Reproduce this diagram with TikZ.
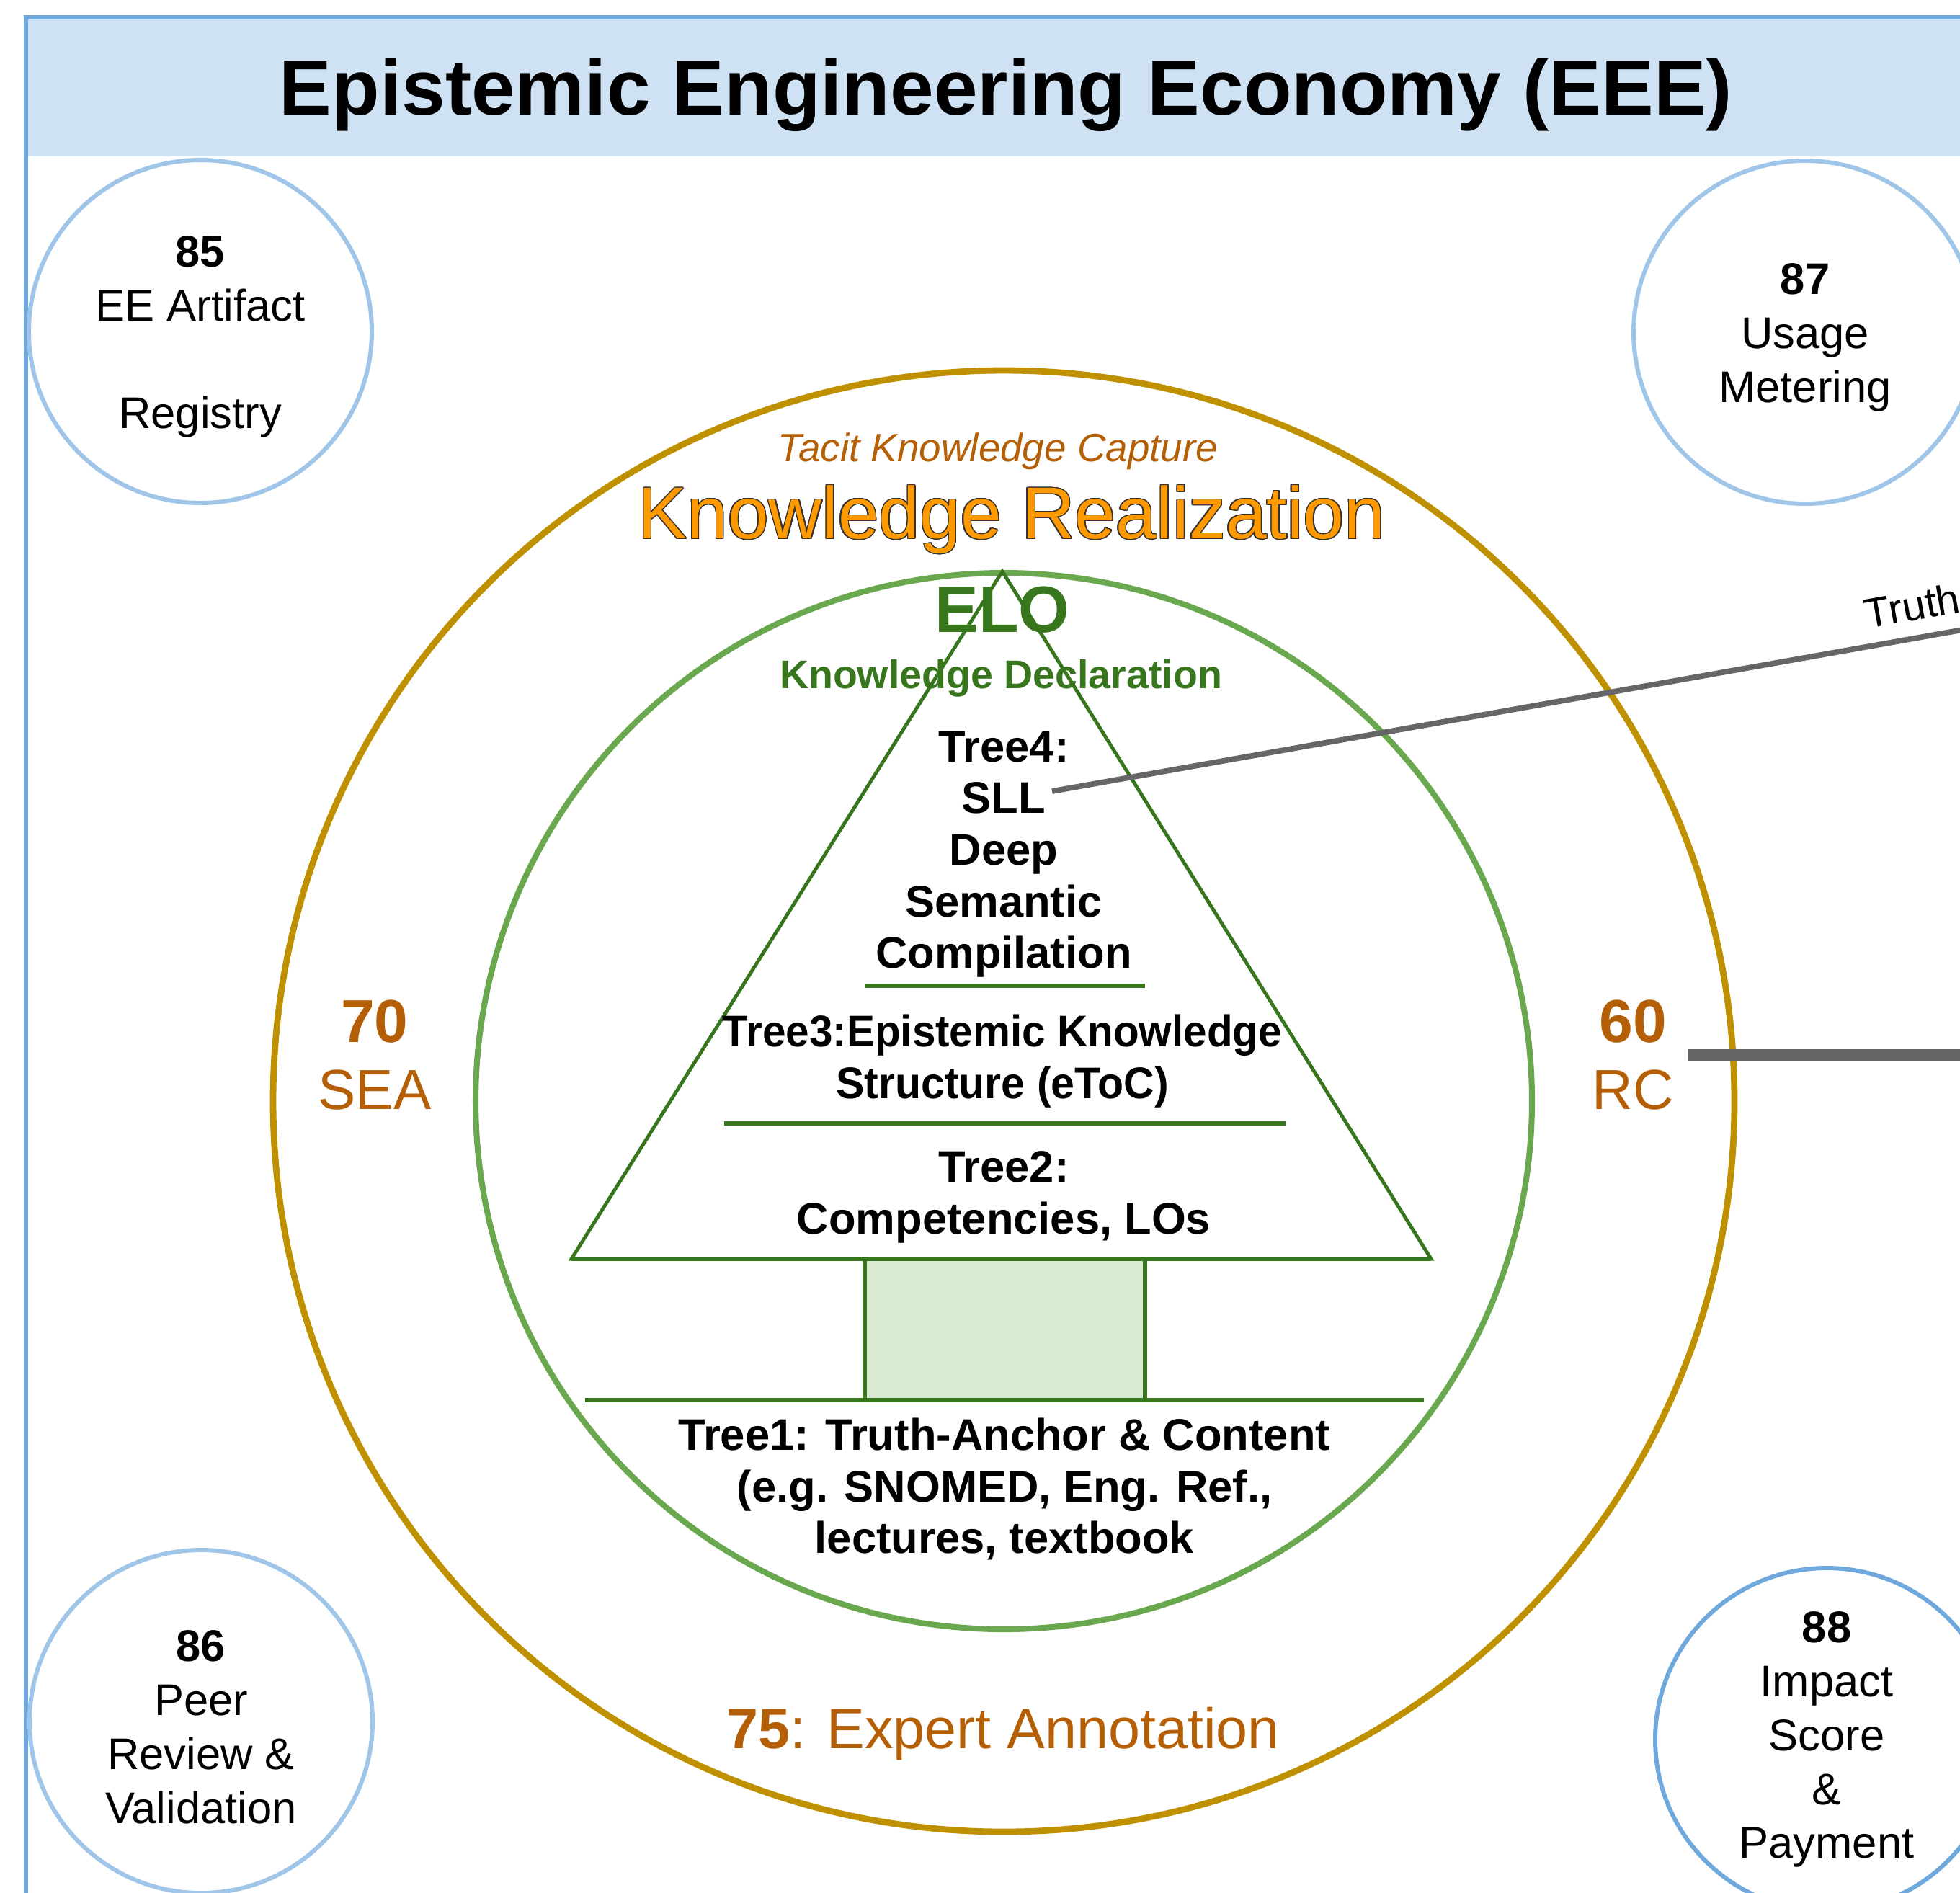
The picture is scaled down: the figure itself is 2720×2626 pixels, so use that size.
\documentclass[tikz,border=0pt]{standalone}
\usepackage{fontspec}
\setmainfont{Liberation Sans}
\usepackage{contour}
\contourlength{0.4pt}
\contournumber{24}
\usetikzlibrary{positioning}

\definecolor{framebl}{HTML}{6FA8DC}
\definecolor{bubblebl}{HTML}{9FC5E8}
\definecolor{headbl}{HTML}{CFE2F3}
\definecolor{gold}{HTML}{BF9000}
\definecolor{ringgreen}{HTML}{6AA84F}
\definecolor{leafgreen}{HTML}{38761D}
\definecolor{trunkfill}{HTML}{D9EAD3}
\definecolor{rust}{HTML}{B45F06}
\definecolor{krorange}{HTML}{FF9900}
\definecolor{linkgray}{HTML}{666666}

\newcommand{\bubblenum}[1]{\rule{0pt}{16.5pt}\textbf{#1}}

\begin{document}
\begin{tikzpicture}[x=0.1mm,y=-0.1mm,
    bubble/.style={circle,draw=bubblebl,line width=1.7pt,minimum size=47.6mm,inner sep=0pt,align=center,font=\fontsize{17.5}{21.3}\selectfont},
    treetxt/.style={anchor=north,inner sep=0pt,align=center,font=\fontsize{17.5}{20.4}\selectfont\bfseries},
    sidetxt/.style={inner sep=2mm,align=center,text=rust,font=\fontsize{22.3}{26.2}\selectfont},
    treeline/.style={draw=leafgreen,line width=1.6pt},
    link/.style={draw=linkgray,line width=2.2pt}]

    \useasboundingbox (0,0) rectangle (2720,2626);

    \fill[headbl] (36,24) rectangle (2900,217);
    \draw[framebl,line width=1.7pt] (36,2800) -- (36,24) -- (2900,24);
    \node[anchor=north,inner sep=0pt,font=\fontsize{31}{36}\selectfont\bfseries] (title) at (1396,80) {Epistemic Engineering Economy (EEE)};

    \node[bubble] (registry) at (278,460) {\bubblenum{85}\\EE Artifact\\[21.3pt]Registry};
    \node[bubble] (usage) at (2505,461) {\bubblenum{87}\\Usage\\Metering};
    \node[bubble] (review) at (279,2389) {\bubblenum{86}\\Peer\\Review \&\\Validation};
    \node[bubble,draw=framebl] (impact) at (2535,2414) {\textbf{88}\\Impact\\Score\\\&\\Payment};

    \draw[gold,line width=2.5pt] (1393,1528) circle[radius=101.4mm];
    \draw[ringgreen,line width=2.3pt] (1393,1528) circle[radius=73.3mm];

    \draw[leafgreen,line width=1.4pt] (1391,793) -- (793,1747) -- (1986,1747) -- cycle;
    \draw[treeline] (793,1747) -- (1986,1747);
    \draw[treeline,fill=trunkfill] (1200,1747) rectangle (1589,1943);
    \draw[treeline] (812,1943) -- (1976,1943);
    \draw[treeline] (1200,1368) -- (1589,1368);
    \draw[treeline] (1005,1559) -- (1784,1559);

    \node[anchor=north,inner sep=0pt,text=rust,font=\fontsize{15.6}{18}\selectfont\itshape] (tacit) at (1385,600) {Tacit Knowledge Capture};
    \node[anchor=north,inner sep=0pt,text=krorange,font=\fontsize{29}{33}\selectfont] (realize) at (1404,673) {\contour{black!80}{Knowledge Realization}};
    \node[anchor=north,inner sep=0pt,text=leafgreen,font=\fontsize{25.9}{30}\selectfont\bfseries] (elo) at (1391,813) {ELO};
    \node[anchor=north,inner sep=0pt,text=leafgreen,font=\fontsize{15.8}{18}\selectfont\bfseries] (decl) at (1389,915) {Knowledge Declaration};

    \node[treetxt] (tree4) at (1393,1014) {Tree4:\\SLL\\Deep\\Semantic\\Compilation};
    \node[treetxt] (tree3) at (1391,1407) {\scalebox{0.95}[1]{Tree3:Epistemic Knowledge}\\\scalebox{0.96}[1]{Structure (eToC)}};
    \node[treetxt] (tree2) at (1393,1597) {Tree2:\\Competencies, LOs};
    \node[treetxt] (tree1) at (1394,1967) {Tree1: Truth-Anchor \& Content\\(e.g. SNOMED, Eng. Ref.,\\lectures, textbook};

    \node[sidetxt] (sea) at (520,1464) {\textbf{\fontsize{23.9}{26.2}\selectfont 70}\\SEA};
    \node[sidetxt] (rc) at (2266,1464) {\textbf{\fontsize{23.9}{26.2}\selectfont 60}\\RC};
    \node[anchor=north,inner sep=0pt,text=rust,font=\fontsize{22.5}{26}\selectfont] (annot) at (1392,2368) {\textbf{75}: Expert Annotation};

    \coordinate (sllpin) at (1460,1098);
    \coordinate (truthend) at (3000,825);
    \coordinate (rcend) at (2900,1464);
    \draw[link] (sllpin) -- (truthend) node[pos=0.735,sloped,anchor=south west,inner xsep=0pt,inner ysep=2mm,font=\fontsize{16.5}{19}\selectfont] (truthlbl) {Truth-};
    \draw[linkgray,line width=4.5pt] (rc.east) -- (rcend);
\end{tikzpicture}
\end{document}
